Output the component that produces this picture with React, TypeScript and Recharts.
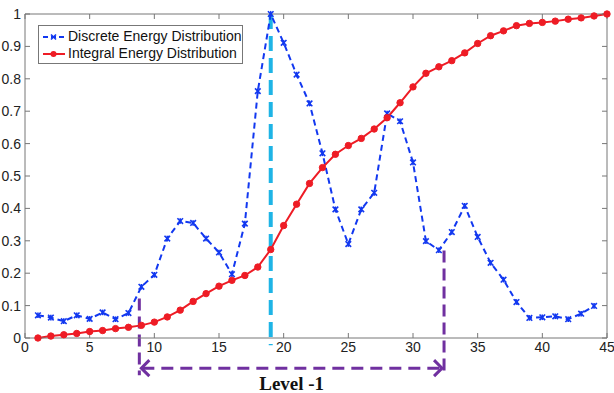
import React from 'react';
import {
  ComposedChart,
  Line,
  XAxis,
  YAxis,
  Legend,
  ReferenceLine,
} from 'recharts';

const positions = Array.from({ length: 45 }, (_, i) => i + 1);

const discreteEnergy = [
  0.07, 0.063, 0.052, 0.07, 0.059, 0.079, 0.058, 0.077, 0.158, 0.195,
  0.307, 0.361, 0.355, 0.307, 0.264, 0.197, 0.353, 0.762, 1.0, 0.911,
  0.813, 0.724, 0.57, 0.397, 0.29, 0.397, 0.448, 0.693, 0.669, 0.542,
  0.299, 0.271, 0.327, 0.408, 0.312, 0.232, 0.18, 0.111, 0.062, 0.064,
  0.067, 0.058, 0.075, 0.099,
];

const integralEnergy = [
  0, 0.006, 0.01, 0.014, 0.02, 0.023, 0.029, 0.033, 0.039, 0.049,
  0.065, 0.086, 0.113, 0.137, 0.16, 0.178, 0.193, 0.219, 0.273, 0.347,
  0.413, 0.477, 0.526, 0.567, 0.594, 0.616, 0.645, 0.68, 0.726, 0.775,
  0.817, 0.837, 0.856, 0.88, 0.909, 0.933, 0.948, 0.964, 0.971, 0.974,
  0.978, 0.984, 0.988, 0.994, 1.0,
];

const xTicks = [0, 5, 10, 15, 20, 25, 30, 35, 40, 45];
const yTicks = [0, 0.1, 0.2, 0.3, 0.4, 0.5, 0.6, 0.7, 0.8, 0.9, 1];

// annotation values (data units)
const peakX = 19;
const levelStart = 8.84;
const levelEnd = 32.4;
const levelStartTop = 0.122;
const levelEndTop = 0.27;
const levelBottom = -0.115;
const arrowY = -0.093;
const levelLabel = 'Level -1';

const BLUE = '#1238f0';
const RED = '#ee1c25';
const CYAN = '#1eb4e6';
const PURPLE = '#7030a0';
const FONT = '"Liberation Sans", Arial, Helvetica, sans-serif';

const data = positions.map((p, i) => ({
  pos: p,
  discrete: i < discreteEnergy.length ? discreteEnergy[i] : null,
  integral: integralEnergy[i],
}));

const CrossDot = (props: any) => {
  const { cx, cy, index } = props;
  if (cx == null || cy == null) return <g key={index} />;
  const s = 2.8;
  return (
    <g key={index} stroke={BLUE} strokeWidth={1.6}>
      <line x1={cx - s} y1={cy - s} x2={cx + s} y2={cy + s} />
      <line x1={cx - s} y1={cy + s} x2={cx + s} y2={cy - s} />
      <line x1={cx} y1={cy - s} x2={cx} y2={cy + s} />
    </g>
  );
};

const RoundDot = (props: any) => {
  const { cx, cy, index } = props;
  if (cx == null || cy == null) return <g key={index} />;
  return <circle key={index} cx={cx} cy={cy} r={3.2} fill={RED} stroke={RED} />;
};

const NoLabel = () => <g />;

const ArrowShape = (props: any) => {
  const { x1, y1, x2 } = props;
  const h = 8;
  return (
    <g>
      <line
        x1={x1 + 3}
        y1={y1}
        x2={x2 - 3}
        y2={y1}
        stroke={PURPLE}
        strokeWidth={3}
        strokeDasharray="12 7"
      />
      <polyline
        points={`${x1 + h + 2},${y1 - h} ${x1 + 2},${y1} ${x1 + h + 2},${y1 + h}`}
        fill="none"
        stroke={PURPLE}
        strokeWidth={3}
      />
      <polyline
        points={`${x2 - h - 2},${y1 - h} ${x2 - 2},${y1} ${x2 - h - 2},${y1 + h}`}
        fill="none"
        stroke={PURPLE}
        strokeWidth={3}
      />
      <text
        x={(x1 + x2) / 2}
        y={y1 + 22}
        textAnchor="middle"
        fontFamily='"Liberation Serif", "Times New Roman", serif'
        fontWeight="bold"
        fontSize={19}
        fill="#111"
      >
        {levelLabel}
      </text>
    </g>
  );
};

const LegendBox = () => (
  <div
    style={{
      border: '1px solid #777',
      background: '#fff',
      width: 205,
      height: 39,
      boxSizing: 'border-box',
      padding: '2px 0 0 2px',
      fontFamily: FONT,
      fontSize: 14,
      lineHeight: '17px',
      color: '#111',
      whiteSpace: 'nowrap',
    }}
  >
    {[
      { name: 'Discrete Energy Distribution', type: 'discrete' },
      { name: 'Integral Energy Distribution', type: 'integral' },
    ].map((it) => (
      <div key={it.name} style={{ display: 'flex', alignItems: 'center', height: 17 }}>
        <svg width={26} height={14} style={{ marginRight: 1, flexShrink: 0 }}>
          {it.type === 'discrete' ? (
            <g>
              <line x1={2} y1={7} x2={24} y2={7} stroke={BLUE} strokeWidth={2} strokeDasharray="5 3" />
              <g stroke={BLUE} strokeWidth={1.6}>
                <line x1={10} y1={4.5} x2={15} y2={9.5} />
                <line x1={10} y1={9.5} x2={15} y2={4.5} />
              </g>
            </g>
          ) : (
            <g>
              <line x1={2} y1={7} x2={24} y2={7} stroke={RED} strokeWidth={2} />
              <circle cx={12.5} cy={7} r={3} fill={RED} />
            </g>
          )}
        </svg>
        <span>{it.name}</span>
      </div>
    ))}
  </div>
);

const App: React.FC = () => {
  const tickStyle = { fontSize: 14, fill: '#222', fontFamily: FONT };
  return (
    <div style={{ position: 'absolute', left: 0, top: 0, background: '#fff' }}>
      <ComposedChart
        width={614}
        height={393}
        data={data}
        margin={{ top: 13, right: 6, left: 5, bottom: 35 }}
      >
        <XAxis
          dataKey="pos"
          type="number"
          domain={[0, 45]}
          ticks={xTicks}
          height={20}
          tickSize={-5}
          tickMargin={9}
          stroke="#777"
          tick={tickStyle}
        />
        <XAxis
          xAxisId="top"
          dataKey="pos"
          orientation="top"
          type="number"
          domain={[0, 45]}
          ticks={xTicks}
          height={1}
          tickSize={-5}
          stroke="#777"
          tick={NoLabel}
        />
        <YAxis
          type="number"
          domain={[0, 1]}
          ticks={yTicks}
          width={20}
          tickSize={-5}
          tickMargin={9}
          stroke="#777"
          tick={tickStyle}
        />
        <YAxis
          yAxisId="right"
          orientation="right"
          type="number"
          domain={[0, 1]}
          ticks={yTicks}
          width={1}
          tickSize={-5}
          stroke="#777"
          tick={NoLabel}
        />
        <Legend
          layout="vertical"
          align="center"
          verticalAlign="middle"
          content={() => <LegendBox />}
          wrapperStyle={{ left: 38, top: 25, width: 205, height: 39 }}
        />
        {/* invisible series so the top/right frame axes get drawn */}
        <Line
          xAxisId="top"
          yAxisId="right"
          dataKey="integral"
          stroke="none"
          dot={false}
          activeDot={false}
          legendType="none"
          isAnimationActive={false}
        />
        <ReferenceLine
          segment={[
            { x: peakX, y: 1 },
            { x: peakX, y: -0.022 },
          ]}
          stroke={CYAN}
          strokeWidth={4}
          strokeDasharray="15 7"
          ifOverflow="visible"
        />
        <Line
          dataKey="discrete"
          stroke={BLUE}
          strokeWidth={2}
          strokeDasharray="6 4"
          dot={CrossDot}
          activeDot={false}
          isAnimationActive={false}
        />
        <Line
          dataKey="integral"
          stroke={RED}
          strokeWidth={2}
          dot={RoundDot}
          activeDot={false}
          isAnimationActive={false}
        />
        <ReferenceLine
          segment={[
            { x: levelStart, y: levelStartTop },
            { x: levelStart, y: levelBottom },
          ]}
          stroke={PURPLE}
          strokeWidth={3}
          strokeDasharray="12 6"
          ifOverflow="visible"
        />
        <ReferenceLine
          segment={[
            { x: levelEnd, y: levelEndTop },
            { x: levelEnd, y: levelBottom },
          ]}
          stroke={PURPLE}
          strokeWidth={3}
          strokeDasharray="12 6"
          ifOverflow="visible"
        />
        <ReferenceLine
          segment={[
            { x: levelStart, y: arrowY },
            { x: levelEnd, y: arrowY },
          ]}
          ifOverflow="visible"
          shape={ArrowShape}
        />
      </ComposedChart>
    </div>
  );
};

export default App;
